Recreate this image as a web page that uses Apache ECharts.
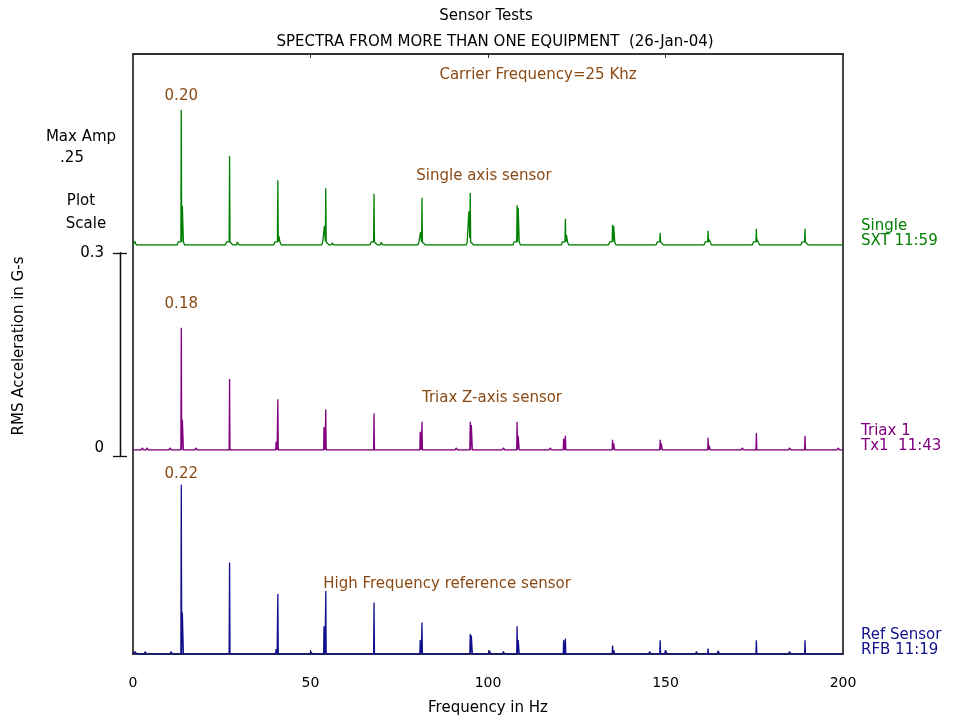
<!DOCTYPE html>
<html>
<head>
<meta charset="utf-8">
<script src="https://cdn.jsdelivr.net/npm/echarts@6/dist/echarts.min.js"></script>
<style>
  html, body { margin: 0; padding: 0; background: #fff; }
  #chart { width: 959px; height: 720px; }
</style>
</head>
<body>
<div id="chart"></div>
<script>
// Harmonic line frequencies (Hz), common to the three sensors
const harmonicHz = [13.6, 27.2, 40.8, 54.3, 67.9, 81.4, 95.0, 108.2, 121.8, 135.1, 148.5, 162.0, 175.6, 189.3];

// Single axis sensor (SXT 11:59), RMS acceleration in G-s
const singleAmps = [0.200, 0.132, 0.096, 0.084, 0.076, 0.070, 0.077, 0.059, 0.039, 0.030, 0.018, 0.021, 0.024, 0.024];
const singleSidebands = [[14.0, 0.058], [27.6, 0.004], [41.2, 0.013], [54.0, 0.028], [68.3, 0.006], [81.1, 0.019],
  [94.7, 0.050], [108.6, 0.055], [122.2, 0.015], [135.5, 0.028], [148.9, 0.006], [162.4, 0.008], [175.9, 0.008], [189.6, 0.006]];
const singleMinor = [[0.6, 0.005], [29.5, 0.0045], [56.2, 0.003], [70.0, 0.004]];

// Triax Z-axis sensor (Tx1 11:43)
const triaxAmps = [0.181, 0.105, 0.075, 0.060, 0.054, 0.042, 0.042, 0.042, 0.021, 0.015, 0.015, 0.018, 0.025, 0.021];
const triaxSidebands = [[14.0, 0.045], [40.4, 0.012], [53.9, 0.034], [81.0, 0.027], [95.4, 0.037], [108.6, 0.021],
  [121.4, 0.017], [135.5, 0.010], [148.9, 0.010], [162.4, 0.007]];
const triaxMinor = [[2.7, 0.003], [4.0, 0.003], [10.5, 0.003], [17.8, 0.003], [91.1, 0.003], [104.4, 0.003],
  [117.6, 0.003], [171.7, 0.003], [185.0, 0.003], [198.7, 0.003]];

// High frequency reference sensor (RFB 11:19)
const refAmps = [0.220, 0.119, 0.078, 0.082, 0.067, 0.041, 0.026, 0.036, 0.020, 0.011, 0.018, 0.007, 0.018, 0.018];
const refSidebands = [[14.0, 0.054], [40.4, 0.0065], [53.9, 0.036], [81.0, 0.018], [95.4, 0.024], [108.6, 0.018],
  [121.4, 0.018], [135.5, 0.005]];
const refMinor = [[0.7, 0.003], [3.5, 0.003], [10.8, 0.003], [50.2, 0.003], [64.3, 0.002], [100.5, 0.004], [104.4, 0.003],
  [145.6, 0.003], [150.1, 0.005], [158.8, 0.003], [164.9, 0.004], [185.0, 0.003]];

// Frequency axis ticks
const freqTicks = [0, 50, 100, 150, 200];
// Plot scale bar ticks
const scaleTicks = [0, 0.3];

const FONT = 'DejaVu Sans';
const BROWN = '#8B4A14';
const FRAME = '#333';
const L = 133, R = 959 - 843, BOTTOM = 720 - 654, TOP = 54;

// Turn a list of spectral lines into a polyline: each line is a narrow trapezoid,
// and the drawn trace is their upper envelope taken at every breakpoint.
function spectrum(amps, sidebands, minor, pedestal) {
  const shapes = [];
  harmonicHz.forEach((f, i) => shapes.push({ f, a: amps[i], flat: 0, w: 0.12 }));
  sidebands.forEach(([f, a]) => shapes.push({ f, a, flat: 0.1, w: 0.1 }));
  minor.forEach(([f, a]) => shapes.push({ f, a, flat: 0.1, w: 0.25 }));
  if (pedestal) harmonicHz.forEach(f => shapes.push({ f: f - 0.1, a: pedestal, flat: 0.75, w: 0.3 }));
  const xs = new Set([0, 200]);
  shapes.forEach(s => {
    [-s.flat - s.w, -s.flat, s.flat, s.flat + s.w].forEach(d => {
      const x = +(s.f + d).toFixed(3);
      if (x >= 0 && x <= 200) xs.add(x);
    });
  });
  const level = x => shapes.reduce((m, s) => {
    const d = Math.abs(x - s.f);
    let v = 0;
    if (d <= s.flat) v = s.a;
    else if (d < s.flat + s.w) v = s.a * (1 - (d - s.flat) / s.w);
    return Math.max(m, v);
  }, 0);
  return Array.from(xs).sort((a, b) => a - b).map(x => [x, level(x)]);
}

const traces = [
  { name: 'Single', tag: 'SXT 11:59', color: '#008000', amps: singleAmps, side: singleSidebands, minor: singleMinor,
    pedestal: 0.0045, top: 42.5, height: 202.5, ymax: 0.3, labelGap: 6 },
  { name: 'Triax 1', tag: 'Tx1  11:43', color: '#800080', amps: triaxAmps, side: triaxSidebands, minor: triaxMinor,
    pedestal: 0, top: 247.5, height: 202.5, ymax: 0.3, labelGap: 16 },
  { name: 'Ref Sensor', tag: 'RFB 11:19', color: '#10108C', amps: refAmps, side: refSidebands, minor: refMinor,
    pedestal: 0, top: 454, height: 200, ymax: 0.26, labelGap: 3 }
];

const gridBase = { outerBoundsMode: 'none', containLabel: false };
const frameLine = { onZero: false, lineStyle: { color: FRAME, width: 1.8 } };
const grid = [Object.assign({ left: L, right: R, top: TOP, bottom: BOTTOM }, gridBase)];
const xAxis = [
  { gridIndex: 0, type: 'value', position: 'bottom', min: 0, max: 200, interval: 50,
    axisLine: frameLine,
    axisTick: { inside: true, length: 4, lineStyle: { color: FRAME } },
    axisLabel: { color: '#000', fontSize: 14, fontFamily: FONT, margin: 22, customValues: freqTicks },
    splitLine: { show: false },
    name: 'Frequency in Hz', nameLocation: 'middle', nameGap: 47,
    nameTextStyle: { color: '#000', fontSize: 15, fontFamily: FONT } },
  { gridIndex: 0, type: 'value', position: 'top', min: 0, max: 200, interval: 50,
    axisLine: frameLine,
    axisTick: { inside: true, length: 4, lineStyle: { color: FRAME } },
    axisLabel: { show: false }, splitLine: { show: false } }
];
const yAxis = [
  { gridIndex: 0, type: 'value', position: 'left', min: 0, max: 1,
    axisLine: Object.assign({ show: true }, frameLine),
    axisTick: { show: false }, axisLabel: { show: false }, splitLine: { show: false } },
  { gridIndex: 0, type: 'value', position: 'right', min: 0, max: 1,
    axisLine: Object.assign({ show: true }, frameLine),
    axisTick: { show: false }, axisLabel: { show: false }, splitLine: { show: false } }
];
const series = [];

traces.forEach((t, i) => {
  const gi = i + 1;
  grid.push(Object.assign({ left: L, right: R, top: t.top, height: t.height }, gridBase));
  xAxis.push({ gridIndex: gi, type: 'value', min: 0, max: 200, show: false });
  yAxis.push({ gridIndex: gi, type: 'value', min: 0, max: t.ymax, show: false });
  series.push({
    type: 'line', name: t.name, xAxisIndex: xAxis.length - 1, yAxisIndex: yAxis.length - 1,
    data: spectrum(t.amps, t.side, t.minor, t.pedestal),
    symbol: 'none', showSymbol: false, silent: true, z: 3,
    lineStyle: { color: t.color, width: 1.3 },
    endLabel: {
      show: true, formatter: t.name + '\n' + t.tag, color: t.color,
      fontSize: 15, fontFamily: FONT, lineHeight: 15, align: 'left',
      distance: 18, offset: [0, -11]
    }
  });
  // value of the fundamental written above its line
  series.push({
    type: 'scatter', xAxisIndex: xAxis.length - 1, yAxisIndex: yAxis.length - 1,
    data: [[harmonicHz[0], t.amps[0]]], symbol: 'rect', symbolSize: 0.01,
    itemStyle: { color: t.color, opacity: 1 }, silent: true, z: 4,
    label: { show: true, position: 'top', distance: t.labelGap, color: BROWN, opacity: 1,
      fontSize: 15, fontFamily: FONT, formatter: p => p.value[1].toFixed(2) }
  });
});

// Plot scale bar
grid.push(Object.assign({ left: 120, width: 0, top: 253, height: 203 }, gridBase));
xAxis.push({ gridIndex: 4, type: 'value', show: false });
const scaleLine = { show: true, onZero: false, lineStyle: { color: '#111', width: 1.3 } };
yAxis.push({
  gridIndex: 4, type: 'value', position: 'left', min: scaleTicks[0], max: scaleTicks[1], interval: 0.3,
  axisLine: scaleLine,
  axisTick: { show: true, length: 7, lineStyle: { color: '#111', width: 1.3 } },
  axisLabel: { color: '#000', fontSize: 15, fontFamily: FONT, margin: 16,
    formatter: v => v === 0 ? '{lo|0}' : String(v),
    rich: { lo: { fontSize: 15, fontFamily: FONT, color: '#000', padding: [0, 0, 16, 0] } } },
  splitLine: { show: false }
});
yAxis.push({
  gridIndex: 4, type: 'value', position: 'right', min: scaleTicks[0], max: scaleTicks[1], interval: 0.3,
  axisLine: scaleLine,
  axisTick: { show: true, length: 7, lineStyle: { color: '#111', width: 1.3 } },
  axisLabel: { show: false }, splitLine: { show: false }
});

function txt(text, x, y, color, extra) {
  return Object.assign({
    type: 'text', x, y, silent: true,
    style: { text, fill: color || '#000', font: '15px "' + FONT + '"', align: 'center', verticalAlign: 'middle' }
  }, extra || {});
}

const option = {
  animation: false,
  backgroundColor: '#fff',
  grid, xAxis, yAxis, series,
  graphic: [
    txt('Sensor Tests', 486, 16),
    txt('SPECTRA FROM MORE THAN ONE EQUIPMENT  (26-Jan-04)', 495, 42),
    txt('Carrier Frequency=25 Khz', 538, 75, BROWN),
    txt('Single axis sensor', 484, 176, BROWN),
    txt('Triax Z-axis sensor', 492, 398, BROWN),
    txt('High Frequency reference sensor', 447, 584, BROWN),
    txt('Max Amp', 81, 137),
    txt('.25', 72, 158),
    txt('Plot', 81, 201),
    txt('Scale', 86, 224),
    txt('RMS Acceleration in G-s', 19, 346, '#000', { rotation: Math.PI / 2 })
  ]
};

const chart = echarts.init(document.getElementById('chart'), null, { renderer: 'canvas' });
chart.setOption(option);
</script>
</body>
</html>
